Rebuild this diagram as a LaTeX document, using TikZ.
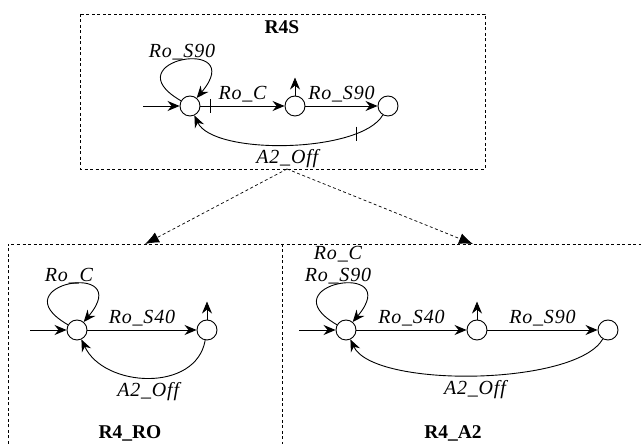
\documentclass[tikz,border=0pt]{standalone}
\usepackage{fontspec}
\setmainfont{Liberation Serif}
\newfontfamily\labelfont[LetterSpace=4]{Liberation Serif}
\usetikzlibrary{arrows.meta}

\begin{document}
\begin{tikzpicture}[x=1pt, y=1pt, line width=0.9pt,
  every node/.style={font=\labelfont\fontsize{20}{22}\selectfont\itshape},
  state/.style={circle, draw, minimum size=20pt, inner sep=0pt},
  trans/.style={-{Stealth[length=12pt,width=10pt,inset=4pt]}},
  frame/.style={line width=0.7pt, dash pattern=on 3pt off 2.5pt},
  refine/.style={frame, -{Latex[length=14pt,width=11pt]}},
  title/.style={font=\fontsize{19.5}{22}\selectfont\bfseries},
  selfloop/.style={out=150, in=50, distance=82pt},
  looplabel/.style={above=-3pt, align=center}]
  \useasboundingbox (0,0) rectangle (641,444);

  % R4S
  \draw[frame] (80,430) rectangle (485,275);
  \node[title] (t0) at (282,417) {R4S};
  \node[state] (a0) at (190,338) {};
  \node[state] (a1) at (295,338) {};
  \node[state] (a2) at (388,338) {};
  \draw[trans] (a0) to[selfloop] node[looplabel] {Ro\_S90} (a0);
  \draw[trans] (a0) -- node[above] {Ro\_C} coordinate[pos=0.12] (k1) (a1);
  \draw[trans] (a1) -- node[above] {Ro\_S90} (a2);
  \draw[trans] (a2) to[out=-120, in=-65, looseness=0.6]
    coordinate[pos=0.2] (k2) node[below=1pt] {A2\_Off} (a0);
  \foreach \k in {k1,k2} { \draw (\k) ++(0,7) -- ++(0,-14); }

  % R4_RO
  \node[state] (b0) at (77,114) {};
  \node[state] (b1) at (207,114) {};
  \draw[trans] (b0) to[selfloop] node[looplabel] {Ro\_C} (b0);
  \draw[trans] (b0) -- node[above] {Ro\_S40} (b1);
  \draw[trans] (b1) to[out=-100, in=-65, looseness=1.1]
    node[below=1pt] {A2\_Off} (b0);
  \node[title] (t1) at (130,11) {R4\_RO};

  % R4_A2
  \node[state] (c0) at (346,114) {};
  \node[state] (c1) at (477,114) {};
  \node[state] (c2) at (608,114) {};
  \draw[trans] (c0) to[selfloop] node[looplabel] {Ro\_C\\Ro\_S90} (c0);
  \draw[trans] (c0) -- node[above] {Ro\_S40} (c1);
  \draw[trans] (c1) -- node[above] {Ro\_S90} (c2);
  \draw[trans] (c2) to[out=-120, in=-65, looseness=0.55]
    node[below=1pt] {A2\_Off} (c0);
  \node[title] (t2) at (453,11) {R4\_A2};

  % initial and marked states
  \foreach \s in {a0,b0,c0} { \draw[trans] ([xshift=-47pt]\s.center) -- (\s); }
  \foreach \s in {a1,b1,c1} { \draw[trans] (\s.north) -- ++(0,18); }

  % frames below and refinement arrows
  \draw[frame] (8,0) -- (8,200) -- (641,200);
  \draw[frame] (282,200) -- (282,0);
  \coordinate (split) at (287,275);
  \coordinate (lt) at (145,200);
  \coordinate (rt) at (473,200);
  \draw[refine] (split) -- (lt);
  \draw[refine] (split) -- (rt);
\end{tikzpicture}
\end{document}
